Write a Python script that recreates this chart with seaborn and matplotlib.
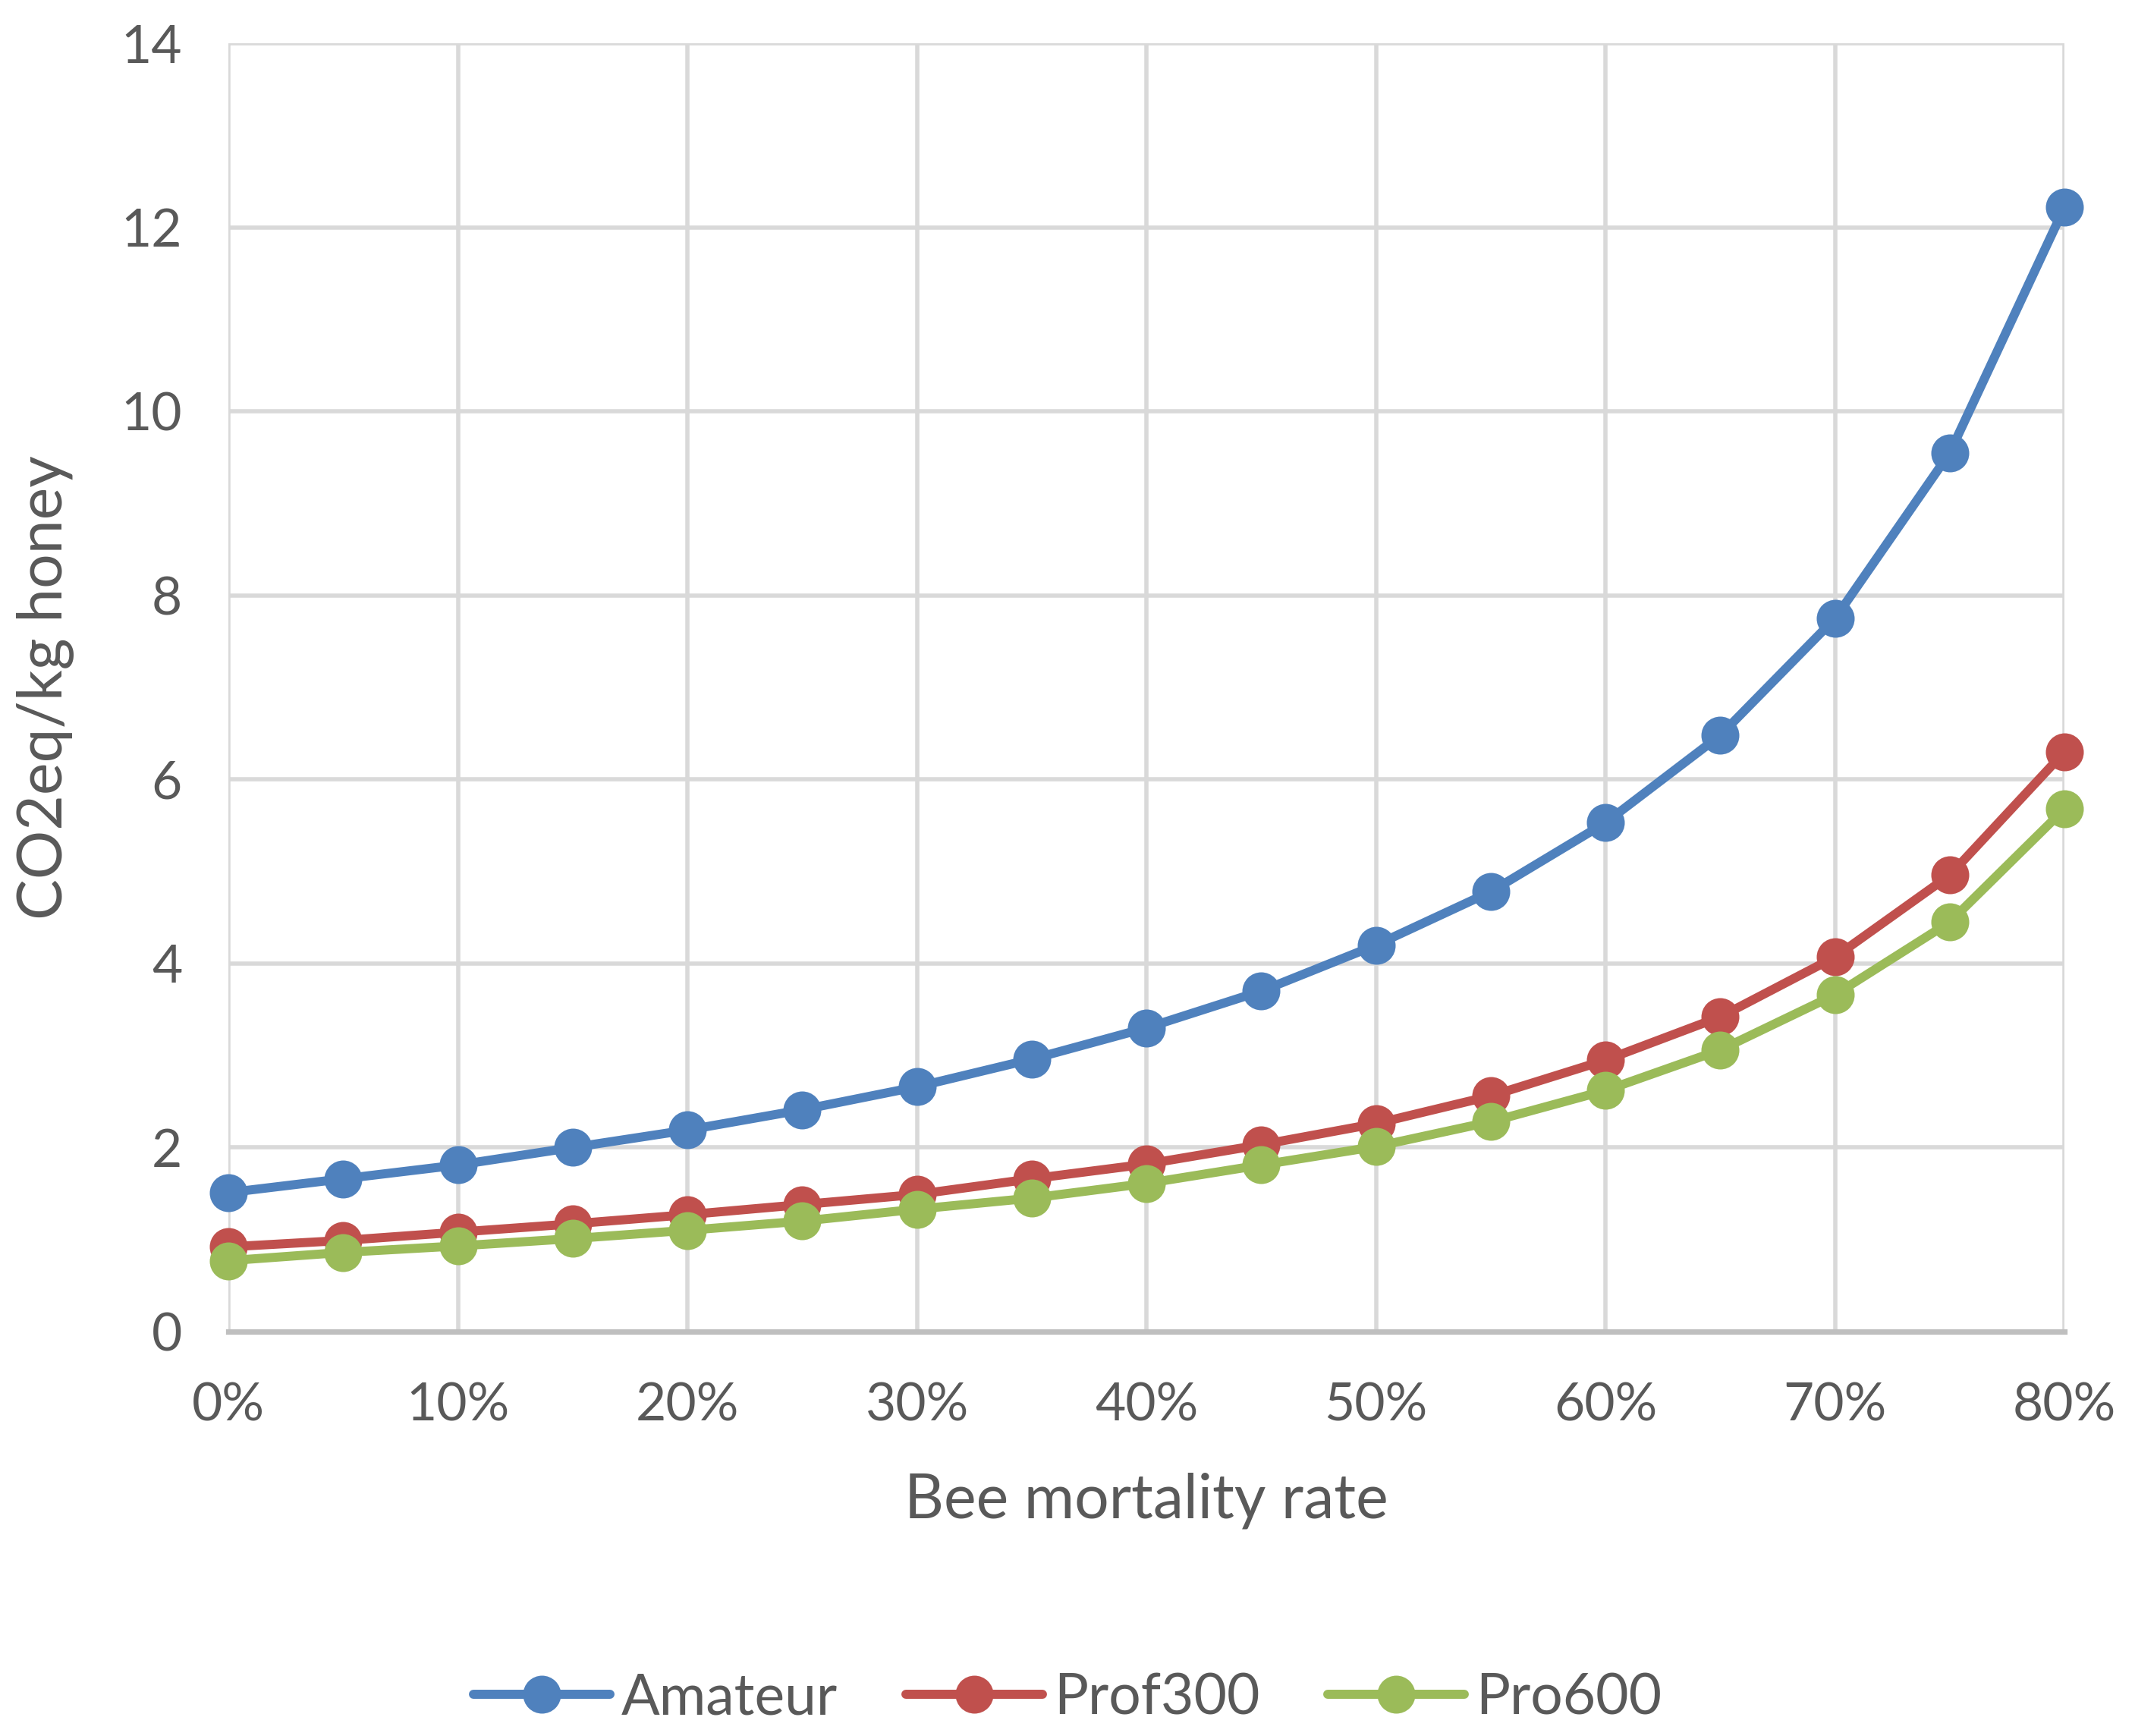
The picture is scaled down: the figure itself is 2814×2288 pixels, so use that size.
import numpy as np
import pandas as pd
import matplotlib
matplotlib.use("Agg")
import matplotlib.pyplot as plt
import seaborn as sns

# mortality rate in percent
MORTALITY = [0, 5, 10, 15, 20, 25, 30, 35, 40, 45, 50, 55, 60, 65, 70, 75, 80]
AMATEUR = [1.51, 1.66, 1.81, 2.00, 2.19, 2.41, 2.66, 2.96, 3.30, 3.70, 4.20, 4.78, 5.53, 6.48, 7.75, 9.55, 12.22]
PROF300 = [0.92, 0.99, 1.08, 1.17, 1.27, 1.38, 1.49, 1.66, 1.82, 2.03, 2.26, 2.56, 2.95, 3.42, 4.07, 4.96, 6.30]
PRO600  = [0.77, 0.86, 0.93, 1.01, 1.10, 1.20, 1.33, 1.45, 1.61, 1.81, 2.01, 2.28, 2.62, 3.06, 3.66, 4.45, 5.68]
SERIES  = ["Amateur", "Prof300", "Pro600"]
COLORS  = ["#4F81BD", "#C0504D", "#9BBB59"]
XTICKS  = [0, 10, 20, 30, 40, 50, 60, 70, 80]
YTICKS  = [0, 2, 4, 6, 8, 10, 12, 14]

TEXT = "#595959"

df = pd.DataFrame({
    "mortality": MORTALITY * 3,
    "value": AMATEUR + PROF300 + PRO600,
    "series": np.repeat(SERIES, len(MORTALITY)),
})

sns.set_theme(style="white")
plt.rcParams["font.family"] = ["Lato", "DejaVu Sans"]

fig = plt.figure(figsize=(14.07, 11.44), dpi=200)
ax = fig.add_axes([0.107, 0.233, 0.860, 0.742])

for name, col in zip(SERIES, COLORS):
    sub = df[df["series"] == name]
    sns.lineplot(data=sub, x="mortality", y="value", ax=ax, color=col,
                 lw=4.3, marker="o", markersize=18, markeredgewidth=0,
                 label=name, clip_on=False, zorder=3)

ax.set_xlim(0, 80)
ax.set_ylim(0, 14)
ax.set_xticks(XTICKS)
ax.set_xticklabels([f"{t}%" for t in XTICKS])
ax.set_yticks(YTICKS)
ax.grid(True, color="#D9D9D9", lw=2)
ax.set_axisbelow(True)
for s in ["top", "right", "left"]:
    ax.spines[s].set_visible(False)
ax.spines["bottom"].set_color("#BFBFBF")
ax.spines["bottom"].set_linewidth(2.6)
ax.tick_params(axis="both", length=0, labelsize=25, labelcolor=TEXT)
ax.tick_params(axis="x", pad=24)
ax.tick_params(axis="y", pad=22)

ax.set_xlabel("Bee mortality rate", fontsize=29, color=TEXT, labelpad=20)
ax.set_ylabel("CO2eq/kg honey", fontsize=29, color=TEXT, labelpad=22)

handles, labels = ax.get_legend_handles_labels()
ax.get_legend().remove()
fig.legend(handles, labels, loc="center", bbox_to_anchor=(0.5, 0.022), ncol=3,
           frameon=False, fontsize=27, labelcolor=TEXT, handlelength=2.4,
           columnspacing=1.2, handletextpad=0.2)

fig.savefig("out.png", dpi=200)
